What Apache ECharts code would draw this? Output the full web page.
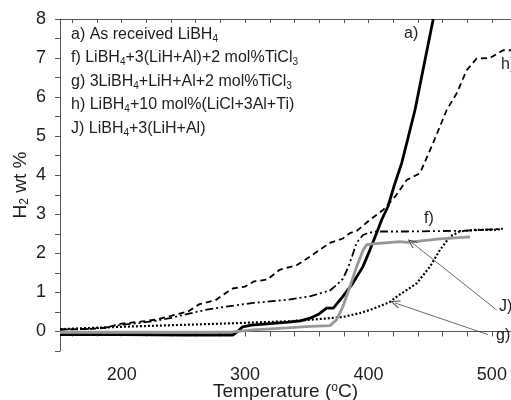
<!DOCTYPE html>
<html>
<head>
<meta charset="utf-8">
<script src="https://cdn.jsdelivr.net/npm/echarts@6/dist/echarts.min.js"></script>
<style>
html,body{margin:0;padding:0;background:#fff;}
#chart{width:511px;height:400px;}
</style>
</head>
<body>
<div id="chart"></div>
<script>
// ---- data (temperature °C, H2 wt %) ----
const seriesA = [[150,-0.08],[200,-0.08],[250,-0.09],[290,-0.09],[294,0.0],[298,0.12],[305,0.16],[320,0.2],[335,0.24],[345,0.27],[352.6,0.34],[360,0.45],[366,0.6],[371.5,0.6],[379.3,0.9],[387.4,1.24],[395.5,1.66],[401.2,2.09],[406.6,2.52],[410.7,2.86],[415.8,3.2],[421,3.75],[426.9,4.31],[432,4.95],[437.7,5.67],[445.8,6.95],[452.5,8.0]];
const seriesH = [[150,0.05],[170,0.06],[186.5,0.09],[200,0.2],[215,0.25],[227,0.3],[240,0.4],[253.7,0.51],[263,0.7],[276,0.8],[285,1.0],[290,1.1],[300,1.15],[307,1.28],[318,1.33],[328,1.58],[342,1.7],[352.6,1.92],[368.8,2.27],[379.3,2.38],[385,2.52],[390.7,2.58],[401.2,2.86],[411.8,3.11],[421.5,3.45],[431,3.88],[441.7,4.05],[452.3,4.82],[463.4,5.67],[471.5,6.1],[479.6,6.69],[487.7,6.99],[498.5,7.0],[509,7.2],[515.5,7.2]];
const seriesF = [[150,0.05],[170,0.06],[186.5,0.1],[200,0.17],[215,0.22],[227,0.27],[240,0.35],[253.7,0.45],[267.5,0.55],[281.3,0.62],[295,0.68],[306.4,0.73],[320,0.77],[334,0.81],[352.6,0.9],[368.8,1.05],[374.5,1.2],[379.3,1.35],[383,1.6],[387,1.95],[390.4,2.27],[395.5,2.47],[401,2.53],[406.6,2.56],[431.2,2.56],[479.8,2.58],[509,2.63]];
const seriesG = [[150,0.06],[200,0.12],[250,0.17],[281,0.2],[334,0.26],[352.6,0.3],[365,0.33],[379,0.37],[393,0.47],[401,0.55],[407,0.62],[417,0.75],[425.5,0.95],[432,1.08],[439.3,1.24],[449.8,1.66],[458,2.09],[466,2.43],[474,2.56],[484.7,2.6],[500.9,2.6],[508,2.62]];
const seriesJ = [[150,-0.02],[200,-0.02],[250,-0.02],[290,-0.01],[306.4,0.04],[334,0.09],[352.6,0.13],[368.8,0.15],[374.2,0.3],[379.3,0.64],[385,1.15],[390.4,1.66],[395.8,2.09],[398.5,2.22],[403.6,2.24],[425.5,2.3],[431.2,2.28],[458,2.37],[482.3,2.42]];

// ---- ticks ----
const xLabelValues = [200,300,400,500];
const xTickValues = [160,180,200,220,240,260,280,300,320,340,360,380,400,420,440,460,480,500];
const yLabelValues = [0,1,2,3,4,5,6,7,8];
const yTickValues = [-0.5,0,0.5,1,1.5,2,2.5,3,3.5,4,4.5,5,5.5,6,6.5,7,7.5,8];

// ---- annotation arrows [tail, head] in data units ----
const arrowJ = [[503.9,0.55],[435,2.28]];
const arrowG = [[496.8,-0.08],[421.5,0.73]];

const legendRows = [
  '{n|a) As received LiBH}{s|4}',
  '{n|f) LiBH}{s|4}{n|+3(LiH+Al)+2 mol%TiCl}{s|3}',
  '{n|g) 3LiBH}{s|4}{n|+LiH+Al+2 mol%TiCl}{s|3}',
  '{n|h) LiBH}{s|4}{n|+10 mol%(LiCl+3Al+Ti)}',
  '{n|J) LiBH}{s|4}{n|+3(LiH+Al)}'
];

const FONT = '"Liberation Sans", Arial, sans-serif';
const TXT = '#1e1e1e';
const AX = '#555';
const richSub = {
  n: {fontSize: 16, fontFamily: FONT, color: TXT, lineHeight: 19, verticalAlign: 'middle'},
  s: {fontSize: 10, fontFamily: FONT, color: TXT, lineHeight: 10, verticalAlign: 'bottom'}
};
const arrowSym = 'path://M0,10 L5,0 L10,10 L9,10.6 L5,2.4 L1,10.6 Z';

const chart = echarts.init(document.getElementById('chart'));
const rowTops = [27, 50, 74, 97, 121];
const graphics = legendRows.map((t, i) => ({
  type: 'text', left: 71, top: rowTops[i], z: 100,
  style: {text: t, rich: richSub, fill: TXT}
}));
const lab = (txt, x, y) => ({type: 'text', left: x, top: y, z: 100,
  style: {text: txt, fontSize: 16, fontFamily: FONT, fill: TXT}});
graphics.push(lab('a)', 404, 26), lab('h)', 501, 57), lab('f)', 424, 211), lab('J)', 499, 299), lab('g)', 496, 328));

const arrowLine = (pair) => ({
  silent: true, symbol: ['none', arrowSym], symbolSize: [8, 10],
  label: {show: false},
  lineStyle: {color: '#444', width: 0.8, type: 'solid'},
  data: [[{coord: pair[0]}, {coord: pair[1]}]]
});

chart.setOption({
  animation: false,
  backgroundColor: '#fff',
  grid: {left: 60, right: 0, top: 19, bottom: 49, containLabel: false, outerBoundsMode: 'none'},
  xAxis: [{
    type: 'value', min: 150, max: 515.5, position: 'bottom',
    axisLine: {show: true, lineStyle: {color: AX, width: 1}},
    axisTick: {show: true, customValues: xTickValues, length: 5, inside: false, lineStyle: {color: AX}},
    axisLabel: {customValues: xLabelValues, fontSize: 18, fontFamily: FONT, color: TXT, margin: 15},
    splitLine: {show: false},
    name: '{n|Temperature (}{p|o}{n|C)}', nameLocation: 'middle', nameGap: 31, nameMoveOverlap: false,
    nameTextStyle: {rich: {
      n: {fontSize: 19, fontFamily: FONT, color: TXT, lineHeight: 20, verticalAlign: 'middle'},
      p: {fontSize: 12, fontFamily: FONT, color: TXT, lineHeight: 11, verticalAlign: 'top'}
    }}
  }, {
    type: 'value', min: 150, max: 515.5, position: 'top',
    axisLine: {show: true, lineStyle: {color: AX, width: 1}},
    axisTick: {show: true, customValues: xTickValues, length: 4, inside: true, lineStyle: {color: AX}},
    axisLabel: {show: false}, splitLine: {show: false}
  }],
  yAxis: {
    type: 'value', min: -0.5, max: 8,
    axisLine: {show: true, lineStyle: {color: AX, width: 1}},
    axisTick: {show: true, customValues: yTickValues, length: 5, lineStyle: {color: AX}},
    axisLabel: {customValues: yLabelValues, fontSize: 18, fontFamily: FONT, color: TXT, margin: 14},
    splitLine: {show: false},
    name: '{n|H}{s|2}{n| wt %}', nameLocation: 'middle', nameGap: 29, nameRotate: 90, nameMoveOverlap: false,
    nameTextStyle: {rich: {
      n: {fontSize: 19, fontFamily: FONT, color: TXT, lineHeight: 21, verticalAlign: 'middle'},
      s: {fontSize: 12, fontFamily: FONT, color: TXT, lineHeight: 12, verticalAlign: 'bottom'}
    }}
  },
  graphic: graphics,
  series: [
    {name: 'h', type: 'line', data: seriesH, showSymbol: false, symbol: 'none',
     lineStyle: {color: '#000', width: 1.8, type: [6, 4]}},
    {name: 'f', type: 'line', data: seriesF, showSymbol: false, symbol: 'none',
     lineStyle: {color: '#000', width: 1.8, type: [8, 3, 2, 3, 2, 3]}},
    {name: 'g', type: 'line', data: seriesG, showSymbol: false, symbol: 'none',
     lineStyle: {color: '#000', width: 2.2, type: [2, 2]},
     markLine: arrowLine(arrowG)},
    {name: 'a', type: 'line', data: seriesA, showSymbol: false, symbol: 'none',
     lineStyle: {color: '#000', width: 2.8}},
    {name: 'J', type: 'line', data: seriesJ, showSymbol: false, symbol: 'none',
     lineStyle: {color: '#979797', width: 2.8},
     markLine: arrowLine(arrowJ)}
  ]
});
</script>
</body>
</html>
